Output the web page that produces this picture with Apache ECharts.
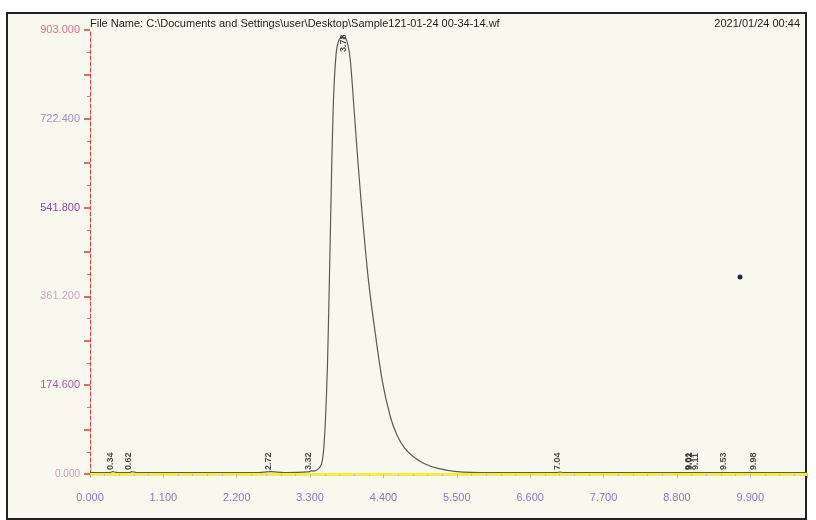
<!DOCTYPE html>
<html>
<head>
<meta charset="utf-8">
<script src="https://cdn.jsdelivr.net/npm/echarts@6/dist/echarts.min.js"></script>
<style>
	html, body { margin: 0; padding: 0; background: #fff; }
	#chart { width: 816px; height: 520px; }
</style>
</head>
<body>
<div id="chart"></div>
<script>
let file_name = 'File Name: C:\\Documents and Settings\\user\\Desktop\\Sample121-01-24 00-34-14.wf';
let print_time = '2021/01/24 00:44';

// 色谱曲线 (min, mV)
let trace_times = [0, 0.3, 0.34, 0.4, 0.6, 0.62, 0.7, 1.5, 2.5, 2.72, 2.9, 3.2, 3.3, 3.32, 3.36, 3.42, 3.47, 3.5, 3.53, 3.56, 3.59, 3.62, 3.65, 3.69, 3.73, 3.78, 3.84, 3.9, 3.96, 4.02, 4.08, 4.17, 4.27, 4.38, 4.5, 4.6, 4.72, 4.85, 5.0, 5.2, 5.5, 6.0, 7.0, 7.04, 7.1, 8.0, 9.0, 9.5, 10.0, 10.75];
let trace_values = [3, 3, 5, 3, 3, 5, 3, 3, 3, 5, 3, 4, 5, 7, 6, 10, 20, 45, 110, 220, 400, 600, 760, 855, 882, 889, 885, 845, 740, 630, 530, 400, 293, 191, 118, 80, 52, 35, 22, 12, 5, 3, 3, 4, 3, 3, 3, 3, 3, 3];

// 峰标记
let peak_times = [0.34, 0.62, 2.72, 3.32, 3.78, 7.04, 9.01, 9.02, 9.11, 9.53, 9.98];
let peak_label_y = [3, 3, 3, 3, 889, 3, 3, 3, 3, 3, 3];

// 坐标轴刻度
let x_ticks = ['0.000', '1.100', '2.200', '3.300', '4.400', '5.500', '6.600', '7.700', '8.800', '9.900'];
let y_ticks = ['0.000', '174.600', '361.200', '541.800', '722.400', '903.000'];
let y_label_colors = ['#c9a0c0', '#9a62b0', '#c8a8c8', '#8c4aa6', '#a890c8', '#e07090'];

let chart = echarts.init(document.getElementById('chart'));

let trace = trace_times.map((t, i) => [t, trace_values[i]]);
let peaks = peak_times.map((t, i) => {
	let top = peak_label_y[i] > 100;
	return {
		value: [t, peak_label_y[i]],
		label: top ? { align: 'right', offset: [2, 2] } : { align: 'left', offset: [2, -2] },
	};
});

let option = {
	backgroundColor: '#ffffff',
	animation: false,
	grid: { left: 90, right: 9, top: 30, bottom: 46 },
	xAxis: {
		type: 'value',
		min: 0,
		max: 10.75,
		interval: 1.1,
		axisLine: { lineStyle: { color: '#eeee4c', width: 3 } },
		axisTick: { show: true, length: 4, lineStyle: { color: '#c0b8a0' } },
		minorTick: { show: true, splitNumber: 5, length: 2, lineStyle: { color: '#c8c0b0' } },
		splitLine: { show: false },
		axisLabel: {
			showMaxLabel: false,
			margin: 18,
			fontFamily: 'Arial, Liberation Sans',
			fontSize: 11,
			color: '#8a7cc0',
			formatter: (v) => x_ticks[Math.round(v / 1.1)] || '',
		},
	},
	yAxis: {
		type: 'value',
		min: 0,
		max: 903,
		interval: 90.3,
		axisLine: { show: true, lineStyle: { color: '#e03a3a', type: 'dashed', width: 1 } },
		axisTick: { show: true, length: 6, lineStyle: { color: '#e03a3a', width: 1.5 } },
		minorTick: { show: true, splitNumber: 2, length: 3, lineStyle: { color: '#e87070' } },
		splitLine: { show: false },
		axisLabel: {
			margin: 10,
			fontFamily: 'Arial, Liberation Sans',
			fontSize: 11,
			formatter: (v) => {
				let i = Math.round(v / 90.3);
				if (i % 2) return '';
				return '{c' + i / 2 + '|' + y_ticks[i / 2] + '}';
			},
			rich: {
				c0: { color: y_label_colors[0], fontSize: 10 },
				c1: { color: y_label_colors[1], fontSize: 11 },
				c2: { color: y_label_colors[2], fontSize: 11 },
				c3: { color: y_label_colors[3], fontSize: 11 },
				c4: { color: y_label_colors[4], fontSize: 11 },
				c5: { color: y_label_colors[5], fontSize: 11 },
			},
		},
	},
	series: [
		{
			type: 'line',
			data: trace,
			smooth: 0.25,
			showSymbol: false,
			lineStyle: { color: '#5e5a52', width: 1.2 },
			z: 3,
		},
		{
			type: 'scatter',
			data: peaks,
			symbolSize: 1,
			itemStyle: { color: 'rgba(0,0,0,0)' },
			label: {
				show: true,
				position: [0, 0],
				rotate: 90,
				verticalAlign: 'middle',
				fontFamily: 'Arial, Liberation Sans',
				fontSize: 9,
				fontWeight: 'bold',
				color: '#1a1a1a',
				formatter: (p) => p.value[0].toFixed(2),
			},
			z: 4,
		},
	],
	graphic: [
		{
			type: 'rect',
			z: -10,
			shape: { x: 7, y: 13, width: 799, height: 506 },
			style: { fill: '#f8f8ef', stroke: '#222', lineWidth: 2 },
		},
		{
			type: 'text',
			left: 90,
			top: 18,
			style: { text: file_name, font: '11px Arial, Liberation Sans', fill: '#1e1e1e' },
		},
		{
			type: 'text',
			right: 16,
			top: 18,
			style: { text: print_time, font: '11px Arial, Liberation Sans', fill: '#1e1e1e' },
		},
		{
			type: 'circle',
			shape: { cx: 740, cy: 277, r: 2.5 },
			style: { fill: '#1c2a44' },
		},
	],
};

chart.setOption(option);
</script>
</body>
</html>
